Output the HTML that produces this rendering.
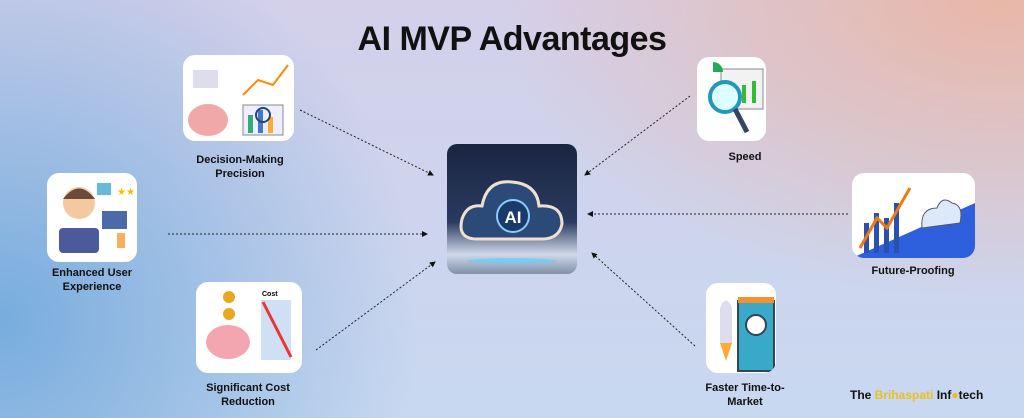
<!DOCTYPE html>
<html><head><style>
body{margin:0;width:1024px;height:418px;overflow:hidden;font-family:"Liberation Sans",sans-serif;}
#bg{position:absolute;inset:0;background:
radial-gradient(ellipse 500px 300px at 1000px 0px,rgba(235,180,160,0.9),rgba(235,180,160,0) 100%),
radial-gradient(ellipse 420px 420px at 0px 320px,rgba(115,170,220,0.95),rgba(115,170,220,0) 100%),
linear-gradient(180deg,#d4d0ea,#c8d8f0);}
.box{position:absolute;background:#fff;border-radius:12px;overflow:hidden}
.lbl{position:absolute;font-weight:bold;font-size:11px;text-align:center;color:#111;line-height:14px;transform:translateX(-50%);white-space:nowrap}
</style></head><body>
<div id="bg"></div>
<div style="position:absolute;left:0;width:1024px;top:20px;text-align:center;font-weight:bold;font-size:34px;color:#111;letter-spacing:-0.5px">AI MVP Advantages</div>

<div class="box" style="left:183px;top:55px;width:111px;height:86px">
<svg width="111" height="86"><ellipse cx="25" cy="65" rx="20" ry="16" fill="#f0a8a8"/><rect x="60" y="50" width="40" height="30" fill="#eef" stroke="#888"/><rect x="65" y="60" width="5" height="18" fill="#3a7"/><rect x="75" y="55" width="5" height="23" fill="#47c"/><rect x="85" y="62" width="5" height="16" fill="#fa3"/><polyline points="60,40 75,25 90,30 105,10" stroke="#f80" fill="none" stroke-width="2"/><rect x="10" y="15" width="25" height="18" fill="#dde" /><circle cx="80" cy="60" r="7" fill="none" stroke="#247" stroke-width="2"/></svg></div>
<div class="lbl" style="left:240px;top:153px">Decision-Making<br>Precision</div>

<div class="box" style="left:47px;top:173px;width:90px;height:89px">
<svg width="90" height="89"><circle cx="32" cy="30" r="16" fill="#f5c9a0"/><path d="M16 26 Q32 5 48 26 Z" fill="#6b4a3a"/><rect x="12" y="55" width="40" height="25" rx="4" fill="#4a5a9a"/><rect x="55" y="38" width="25" height="18" fill="#4a6aaa"/><rect x="50" y="10" width="14" height="12" fill="#6bd"/><path d="M70 75 v-15 h8 v15z" fill="#f5b060"/><text x="70" y="22" font-size="10" fill="#fb0">★★</text></svg></div>
<div class="lbl" style="left:92px;top:266px">Enhanced User<br>Experience</div>

<div class="box" style="left:196px;top:282px;width:106px;height:91px">
<svg width="106" height="91"><ellipse cx="32" cy="60" rx="22" ry="17" fill="#f4a6b0"/><circle cx="33" cy="15" r="6" fill="#e9a820"/><circle cx="33" cy="32" r="6" fill="#e9a820"/><rect x="65" y="18" width="30" height="60" fill="#cfe0f5"/><line x1="67" y1="20" x2="95" y2="75" stroke="#e33" stroke-width="3"/><text x="66" y="14" font-size="7" font-weight="bold">Cost</text></svg></div>
<div class="lbl" style="left:248px;top:381px">Significant Cost<br>Reduction</div>

<div class="box" style="left:447px;top:144px;width:130px;height:130px;border-radius:10px;background:linear-gradient(180deg,#1a2540 0%,#2a3a60 60%,#cfd8e8 85%,#8090a8 100%)">
<svg width="130" height="130"><path d="M30 95 Q10 95 15 75 Q20 60 35 62 Q40 35 65 38 Q90 40 92 62 Q115 60 115 80 Q112 95 95 95 Z" fill="#2c4a78" stroke="#f0e0d0" stroke-width="3"/><circle cx="66" cy="72" r="16" fill="#1a3a6a" stroke="#8cf" stroke-width="2"/><text x="66" y="79" text-anchor="middle" font-size="17" font-weight="bold" fill="#fff">AI</text><ellipse cx="65" cy="117" rx="45" ry="3" fill="#6cf" opacity=".7"/></svg></div>

<div class="box" style="left:697px;top:57px;width:69px;height:84px">
<svg width="69" height="84"><rect x="24" y="12" width="42" height="40" fill="#f2f2f2" stroke="#888"/><rect x="45" y="28" width="4" height="18" fill="#3b3"/><rect x="55" y="24" width="4" height="22" fill="#3b3"/><circle cx="28" cy="40" r="15" fill="#dff" stroke="#29b" stroke-width="4"/><line x1="38" y1="52" x2="50" y2="75" stroke="#346" stroke-width="5"/><path d="M16 5 a10 10 0 0 1 10 10 h-10z" fill="#2a5"/></svg></div>
<div class="lbl" style="left:745px;top:150px">Speed</div>

<div class="box" style="left:852px;top:173px;width:123px;height:85px">
<svg width="123" height="85"><polygon points="0,85 123,30 123,85" fill="#2e5fdc"/><rect x="12" y="50" width="5" height="30" fill="#2a50b0"/><rect x="22" y="40" width="5" height="40" fill="#2a50b0"/><rect x="32" y="45" width="5" height="35" fill="#2a50b0"/><rect x="42" y="30" width="5" height="50" fill="#2a50b0"/><polyline points="8,75 25,45 35,55 58,15" stroke="#f07a10" stroke-width="3" fill="none"/><path d="M70 55 Q68 35 85 35 Q90 22 100 30 Q112 32 108 50 Z" fill="#dde8fa" stroke="#556"/></svg></div>
<div class="lbl" style="left:913px;top:264px">Future-Proofing</div>

<div class="box" style="left:706px;top:283px;width:70px;height:90px">
<svg width="70" height="90"><path d="M14 25 Q20 10 26 25 V60 H14Z" fill="#dde"/><path d="M14 60 l6 18 l6 -18z" fill="#fa3"/><rect x="32" y="18" width="36" height="70" fill="#39a9c9" stroke="#345" stroke-width="2"/><rect x="32" y="14" width="36" height="6" fill="#f59030"/><circle cx="50" cy="42" r="10" fill="#fff" stroke="#345" stroke-width="2"/></svg></div>
<div class="lbl" style="left:745px;top:381px">Faster Time-to-<br>Market</div>

<svg width="1024" height="418" style="position:absolute;left:0;top:0">
<defs><marker id="a" markerWidth="6" markerHeight="6" refX="5" refY="3" orient="auto"><path d="M0,0 L6,3 L0,6z" fill="#111"/></marker></defs>
<g stroke="#222" stroke-width="1" stroke-dasharray="2,2" fill="none" marker-end="url(#a)">
<line x1="300" y1="110" x2="433" y2="175"/>
<line x1="168" y1="234" x2="427" y2="234"/>
<line x1="316" y1="350" x2="435" y2="262"/>
<line x1="690" y1="96" x2="585" y2="175"/>
<line x1="848" y1="214" x2="588" y2="214"/>
<line x1="695" y1="346" x2="592" y2="253"/>
</g></svg>

<div style="position:absolute;left:850px;top:388px;font-weight:bold;font-size:12px;color:#111">The <span style="color:#e8c020">Brihaspati</span> Inf<span style="color:#e8c020">●</span>tech</div>
</body></html>
